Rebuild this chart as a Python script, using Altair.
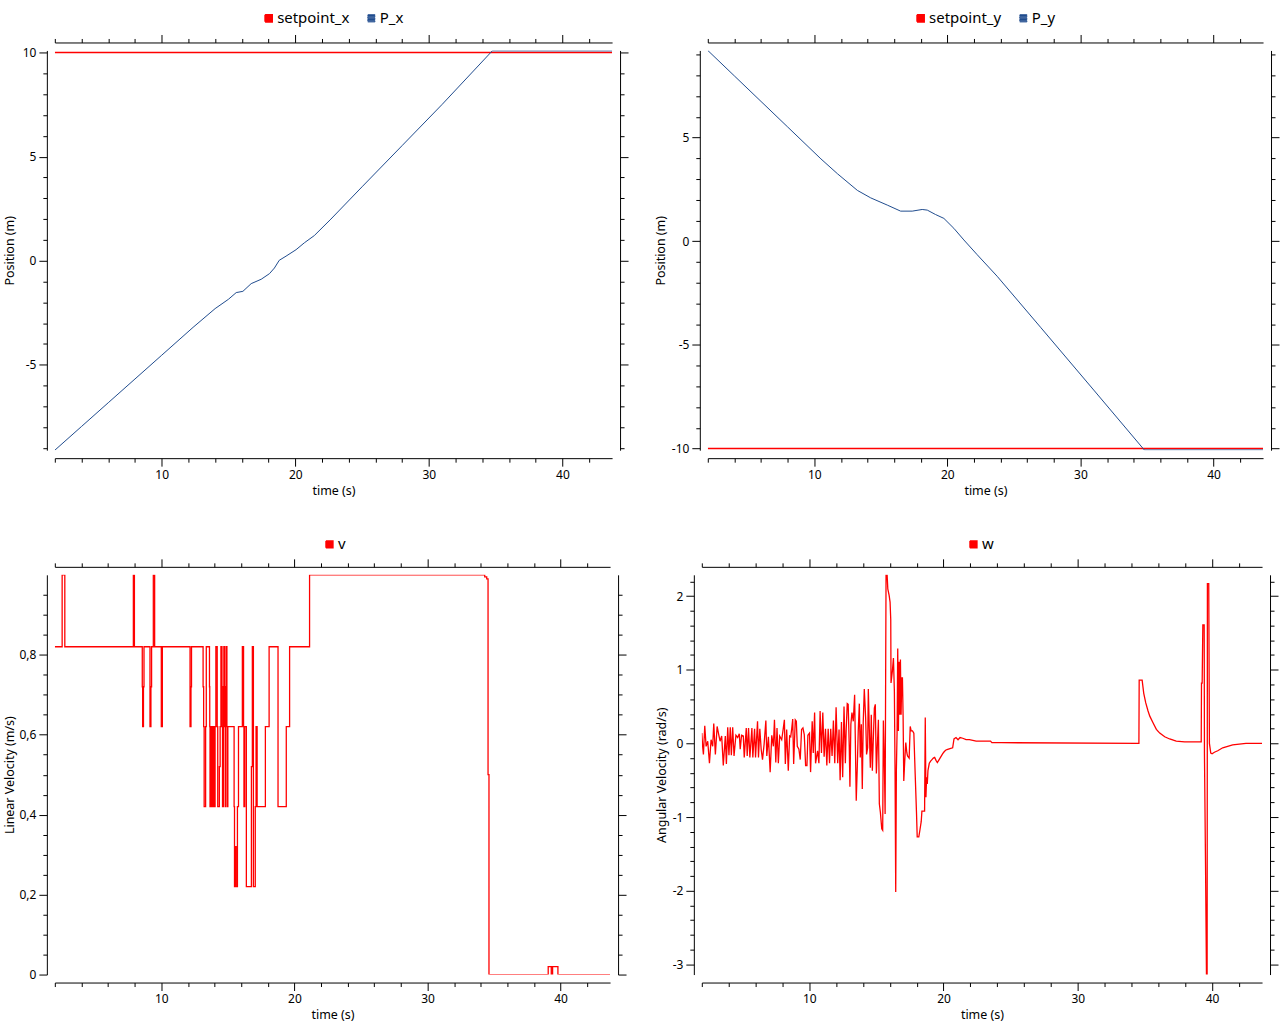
import altair as alt
import pandas as pd

FONT = "Noto Sans"
RED = "#ff0000"
BLUE = "#1f4b8e"

TIME_DOMAIN = [2.0, 43.72]
TIME_TICKS = list(range(2, 44, 2))

# ---------------- top-left : position x ----------------
setpoint_x_t = [2.0, 43.72]
setpoint_x_v = [10.0, 10.0]
p_x_t = [2.0, 4.0, 6.0, 8.0, 10.0, 12.35, 14.0, 15.0, 15.58, 16.08, 16.7, 17.45, 18.07,
         18.44, 18.8, 19.31, 20.06, 20.68, 21.43, 22.67, 25.0, 28.0, 31.0, 34.75, 43.72]
p_x_v = [-9.1, -7.96, -6.82, -5.68, -4.54, -3.2, -2.3, -1.85, -1.53, -1.47, -1.1, -0.89, -0.62,
         -0.35, 0.02, 0.22, 0.53, 0.86, 1.21, 2.0, 3.55, 5.53, 7.51, 10.08, 10.08]

# ---------------- top-right : position y ----------------
setpoint_y_t = [2.0, 43.72]
setpoint_y_v = [-10.0, -10.0]
p_y_t = [2.0, 4.0, 6.0, 8.0, 10.5, 11.75, 13.24, 14.24, 15.49, 16.49, 17.36, 18.11, 18.49,
         19.1, 19.74, 20.49, 21.24, 22.24, 23.74, 27.0, 31.0, 34.8, 43.72]
p_y_v = [9.2, 7.97, 6.74, 5.51, 3.97, 3.25, 2.45, 2.09, 1.74, 1.45, 1.45, 1.53, 1.5,
         1.29, 1.1, 0.62, 0.06, -0.65, -1.69, -4.15, -7.18, -10.07, -10.07]

# ---------------- bottom-left : linear velocity (step data) ----------------
v_t = [2.0, 2.55, 2.75, 7.9, 7.98, 8.57, 8.6, 8.66, 8.7, 9.15, 9.22, 9.27, 9.4, 9.5,
       10.0, 10.08, 12.16, 12.23, 12.27,
       13.14, 13.18, 13.22, 13.33, 13.38, 13.62, 13.64, 13.66, 13.72, 13.76, 13.82, 13.86,
       13.92, 13.96, 14.04, 14.1, 14.2, 14.24, 14.36, 14.42, 14.48, 14.56, 14.6, 14.66,
       14.7, 14.76, 14.8, 14.84, 14.88, 14.93, 14.96, 15.0, 15.47, 15.5, 15.58, 15.62,
       15.72, 15.8, 16.09, 16.18, 16.21, 16.27, 16.39, 16.77, 16.84, 16.92, 17.06, 17.12,
       17.2, 17.82, 18.1, 18.77, 19.39, 19.64, 21.14, 34.3, 34.45, 34.55, 34.62,
       39.07, 39.3, 39.4, 39.8, 43.72]
v_v = [0.82, 1.0, 0.82, 1.0, 0.82, 0.72, 0.62, 0.72, 0.82, 0.62, 0.72, 0.82, 1.0, 0.82,
       0.62, 0.82, 0.62, 0.72, 0.82,
       0.72, 0.62, 0.42, 0.62, 0.82, 0.72, 0.62, 0.42, 0.62, 0.42, 0.62, 0.42,
       0.62, 0.42, 0.62, 0.82, 0.62, 0.42, 0.52, 0.62, 0.82, 0.62, 0.42, 0.72,
       0.82, 0.62, 0.42, 0.72, 0.82, 0.62, 0.42, 0.62, 0.42, 0.22, 0.32, 0.22,
       0.42, 0.62, 0.82, 0.62, 0.42, 0.62, 0.22, 0.52, 0.82, 0.22, 0.42, 0.62,
       0.42, 0.62, 0.82, 0.42, 0.62, 0.82, 1.0, 0.995, 0.99, 0.5, 0.0,
       0.02, 0.0, 0.02, 0.0, 0.0]

# ---------------- bottom-right : angular velocity ----------------
w_t = [2.00, 2.07, 2.12, 2.22, 2.32, 2.44, 2.57, 2.69, 2.81, 2.89, 3.01, 3.14, 3.26, 3.36,
       3.48, 3.60, 3.75, 3.83, 3.93, 4.02, 4.12, 4.20, 4.30, 4.40, 4.54, 4.67, 4.79, 4.86,
       4.96, 5.09, 5.16, 5.31, 5.38, 5.48, 5.58, 5.73, 5.80, 5.93, 6.00, 6.15, 6.22, 6.32,
       6.42, 6.52, 6.64, 6.77, 6.84, 6.96, 7.09, 7.21, 7.33, 7.41, 7.51, 7.60, 7.70, 7.80,
       7.95, 8.05, 8.15, 8.22, 8.32, 8.44, 8.54, 8.62, 8.69, 8.77, 8.84, 8.96, 9.04, 9.11,
       9.23, 9.33, 9.43, 9.53, 9.63, 9.73, 9.83, 9.90, 10.02, 10.10, 10.22, 10.30, 10.40,
       10.47, 10.62, 10.72, 10.81, 10.91, 11.01, 11.11, 11.21, 11.31, 11.41, 11.51, 11.60,
       11.70, 11.80, 11.90, 12.00, 12.12, 12.22, 12.30, 12.40, 12.49, 12.59, 12.69,
       12.75, 12.83, 12.90, 12.98, 13.03, 13.10, 13.18, 13.28, 13.38, 13.50, 13.58, 13.65,
       13.73, 13.80, 13.88, 13.95, 14.02, 14.10, 14.20, 14.27, 14.35, 14.40, 14.47, 14.55,
       14.62, 14.70, 14.77, 14.85, 14.92, 15.00, 15.07, 15.15, 15.22, 15.30, 15.40, 15.47,
       15.52, 15.60, 15.65, 15.72, 15.80, 15.85, 15.95, 16.02, 16.07, 16.09, 16.19, 16.27,
       16.34, 16.39, 16.44, 16.49, 16.54, 16.59, 16.64, 16.69, 16.74, 16.79, 16.84, 16.89,
       16.94, 16.99, 17.04, 17.09, 17.14, 17.19, 17.27, 17.32, 17.44, 17.52, 17.59, 17.69,
       17.79, 17.89, 17.99, 18.04, 18.16, 18.24, 18.34, 18.39, 18.59, 18.64, 18.69, 18.74,
       18.79, 18.84, 18.94, 19.04, 19.14, 19.24, 19.34, 19.44, 19.54, 19.64, 19.74, 19.94,
       20.06, 20.18, 20.31, 20.48, 20.68, 20.78, 20.93, 21.08, 21.23, 21.43, 21.68, 21.93,
       22.43, 22.93, 23.50, 23.60, 24.30, 34.55, 34.57, 34.79, 34.91, 35.06, 35.23, 35.36,
       35.60, 35.85, 36.10, 36.47, 36.84, 37.33, 37.95, 39.19, 39.21, 39.26, 39.31, 39.41,
       39.43, 39.51, 39.58, 39.63, 39.65, 39.75, 39.80, 39.90, 40.00, 40.17, 40.42, 40.79,
       41.16, 41.53, 42.52, 43.72]
w_v = [0.14, -0.06, -0.15, 0.24, -0.04, 0.03, -0.27, 0.05, -0.04, 0.27, -0.15, 0.23, 0.12, 0.03,
       0.10, -0.30, 0.10, -0.28, 0.22, -0.16, 0.22, -0.16, 0.22, -0.17, 0.11, 0.08, 0.13, -0.08,
       0.11, 0.10, -0.19, 0.21, -0.17, 0.21, -0.19, 0.21, -0.19, 0.20, -0.19, 0.30, -0.19, 0.20,
       -0.08, -0.22, -0.01, 0.31, -0.17, 0.09, -0.39, 0.11, -0.04, 0.32, -0.26, 0.21, -0.27, 0.10,
       0.05, 0.18, 0.32, -0.28, 0.19, -0.37, 0.10, 0.09, 0.19, 0.33, -0.28, 0.32, 0.30, -0.04,
       -0.08, -0.22, 0.19, 0.21, 0.12, -0.30, -0.30, 0.11, 0.14, -0.39, 0.30, -0.13, 0.42,
       -0.27, -0.10, -0.27, 0.44, -0.13, 0.42, -0.18, 0.20, -0.30, 0.20, -0.27, 0.20,
       -0.17, 0.31, -0.27, 0.49, -0.27, 0.19, -0.50, 0.29, -0.46, 0.50, -0.27,
       0.18, 0.54, 0.53, -0.04, -0.59, 0.26, 0.42, 0.30, 0.66, -0.78, -0.31, 0.17,
       0.54, -0.19, 0.26, -0.62, 0.28, 0.74, 0.35, -0.15, -0.06, 0.74, 0.21, -0.33,
       0.39, -0.37, 0.05, 0.48, 0.53, -0.41, -0.04, 0.32, -0.82, -0.94, -1.16, -1.18,
       0.31, -0.33, -0.96, 2.29, 2.29, 2.10, 2.01, 1.92, 1.68, 0.82, 0.98, 1.16,
       0.71, -0.36, -2.02, -0.35, 0.14, 1.29, 0.17, 1.11, 0.39, 1.14, 0.39, 0.89,
       0.89, 0.37, -0.51, -0.32, -0.14, 0.01, -0.13, -0.17, -0.20, 0.23, 0.17, 0.17,
       0.14, -0.42, -0.96, -1.27, -1.27, -1.18, -1.06, -0.92, -0.92, 0.35, -0.73, -0.46,
       -0.55, -0.37, -0.27, -0.24, -0.22, -0.20, -0.19, -0.23, -0.26, -0.23, -0.20, -0.14,
       -0.11, -0.09, -0.08, -0.07, -0.06, 0.06, 0.08, 0.05, 0.08, 0.07, 0.05, 0.05,
       0.03, 0.03, 0.03, 0.01, 0.01, 0.0, 0.86, 0.86, 0.68, 0.55, 0.44, 0.37,
       0.28, 0.19, 0.14, 0.09, 0.06, 0.03, 0.02, 0.02, 0.82, 0.82, 1.61, 1.61,
       -0.13, -1.64, -3.14, -3.14, 2.17, 2.17, 0.0, -0.13, -0.14, -0.12, -0.10, -0.06,
       -0.04, -0.02, 0.0, 0.0]


def frame(series):
    rows = []
    for name, ts, vs in series:
        for t, v in zip(ts, vs):
            rows.append({"series": name, "t": t, "val": v})
    return pd.DataFrame(rows)


def cond_size(test):
    return {"condition": {"test": test, "value": 8}, "value": 4}


# legend key: a serpentine stroke path that paints a solid square
_ys = [-0.9 + 0.2 * i for i in range(10)]
_parts = ["M-0.9,-0.9"]
for i, yv in enumerate(_ys):
    if i > 0:
        _parts.append(f"V{yv:.2f}")
    _parts.append("H0.9" if i % 2 == 0 else "H-0.9")
KEY_PATH = "".join(_parts)

AX = dict(domainColor="#000000", tickColor="#000000", labelColor="#000000",
          titleColor="#000000", labelFont=FONT, titleFont=FONT, labelFontSize=12,
          titleFontWeight="normal", titleFontSize=12.5, domainWidth=1, tickWidth=1,
          grid=False, offset=8, labelOverlap=False, labelFlush=False)


def panel(df, names, colors, widths, ydom, yticks, ytest, ylabel, ytitle,
          w, h, lx, ly, interp="linear", ytitle_pad=4):
    xtest = "datum.value % 10 === 0"
    xb = alt.Axis(orient="bottom", values=TIME_TICKS, tickSize=cond_size(xtest),
                  labelExpr=f"{xtest} ? datum.label : ''", title="time (s)",
                  labelPadding=3, titlePadding=4, **AX)
    xt = alt.Axis(orient="top", values=TIME_TICKS, tickSize=cond_size(xtest),
                  labels=False, title=None, **AX)
    yl = alt.Axis(orient="left", values=yticks, tickSize=cond_size(ytest),
                  labelExpr=f"{ytest} ? {ylabel} : ''", title=ytitle,
                  labelPadding=3, titlePadding=ytitle_pad, **AX)
    yr = alt.Axis(orient="right", values=yticks, tickSize=cond_size(ytest),
                  labels=False, title=None, **AX)
    xs = alt.Scale(domain=TIME_DOMAIN, nice=False, zero=False)
    ys = alt.Scale(domain=ydom, nice=False, zero=False)
    enc = dict(
        x=alt.X("t:Q", scale=xs, axis=xb),
        y=alt.Y("val:Q", scale=ys, axis=yl),
        color=alt.Color("series:N", scale=alt.Scale(domain=names, range=colors),
                        legend=alt.Legend(orient="none", legendX=lx, legendY=ly,
                                          direction="horizontal", title=None,
                                          symbolType=KEY_PATH, symbolSize=64,
                                          symbolStrokeWidth=1.2, labelFont=FONT,
                                          labelFontSize=15, labelColor="#000000",
                                          columnPadding=14, labelOffset=1)),
    )
    if len(names) > 1:
        enc["strokeWidth"] = alt.StrokeWidth(
            "series:N", scale=alt.Scale(domain=names, range=widths), legend=None)
        lines = alt.Chart(df).mark_line(interpolate=interp, clip=True).encode(**enc)
    else:
        lines = alt.Chart(df).mark_line(interpolate=interp, clip=True,
                                        strokeWidth=widths[0]).encode(**enc)
    mirror = alt.Chart(df).mark_line(opacity=0).encode(
        x=alt.X("t:Q", scale=xs, axis=xt),
        y=alt.Y("val:Q", scale=ys, axis=yr),
    )
    return alt.layer(lines, mirror).resolve_axis(
        x="independent", y="independent").properties(width=w, height=h)


df_tl = frame([("setpoint_x", setpoint_x_t, setpoint_x_v), ("P_x", p_x_t, p_x_v)])
df_tr = frame([("setpoint_y", setpoint_y_t, setpoint_y_v), ("P_y", p_y_t, p_y_v)])
df_bl = frame([("v", v_t, v_v)])
df_br = frame([("w", w_t, w_v)])

int_test5 = "datum.value % 5 === 0"
tl = panel(df_tl, ["setpoint_x", "P_x"], [RED, BLUE], [1.5, 1.0], [-9.1, 10.1],
           list(range(-9, 11)), int_test5, "toString(datum.value)", "Position (m)",
           559, 401, 207, -40, ytitle_pad=6)
tr = panel(df_tr, ["setpoint_y", "P_y"], [RED, BLUE], [1.5, 1.0], [-10.08, 9.2],
           list(range(-10, 10)), int_test5, "toString(datum.value)", "Position (m)",
           557, 401, 206, -40)

bl_ticks = [round(0.05 * i, 2) for i in range(20)]
bl_test = "abs(datum.value * 5 - round(datum.value * 5)) < 0.001"
bl_label = "(datum.value === 0 ? '0' : replace(format(datum.value, '.1f'), '.', ','))"
bl = panel(df_bl, ["v"], [RED], [1.3], [0.0, 1.0], bl_ticks, bl_test, bl_label,
           "Linear Velocity (m/s)", 557, 401, 268, -38, interp="step-after",
           ytitle_pad=3)

br_ticks = [round(-3.0 + 0.2 * i, 1) for i in range(27)]
br_test = "abs(datum.value - round(datum.value)) < 0.001"
br = panel(df_br, ["w"], [RED], [1.3], [-3.14, 2.29], br_ticks, br_test,
           "toString(round(datum.value))", "Angular Velocity (rad/s)",
           562, 401, 265, -38)

row1 = alt.hconcat(tl, tr, spacing=25).resolve_scale(
    color="independent", strokeWidth="independent")
row2 = alt.hconcat(bl, br, spacing=28).resolve_scale(
    color="independent", strokeWidth="independent")

chart = alt.vconcat(row1, row2, spacing=40).resolve_scale(
    color="independent", strokeWidth="independent"
).properties(
    padding={"left": 3, "top": 9, "right": 0, "bottom": 4},
    background="#ffffff",
).configure_view(stroke=None)

chart.save("out.html", embed_options={"renderer": "svg", "actions": False})
